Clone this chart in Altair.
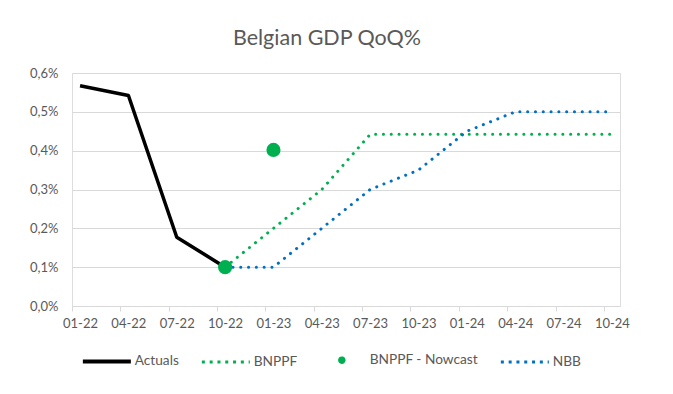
import altair as alt
import pandas as pd

# ---- data ----
quarters = ["01-22", "04-22", "07-22", "10-22", "01-23", "04-23", "07-23",
            "10-23", "01-24", "04-24", "07-24", "10-24"]
actuals = [0.567, 0.542, 0.177, 0.100, None, None, None, None, None, None, None, None]
bnppf = [None, None, None, 0.100, 0.200, 0.300, 0.442, 0.442, 0.442, 0.442, 0.442, 0.442]
nowcast = [None, None, None, 0.100, 0.402, None, None, None, None, None, None, None]
nbb = [None, None, None, 0.100, 0.100, 0.200, 0.300, 0.350, 0.450, 0.500, 0.500, 0.500]

series_names = ["Actuals", "BNPPF", "BNPPF - Nowcast", "NBB"]
series_vals = [actuals, bnppf, nowcast, nbb]
series_colors = ["#000000", "#00B050", "#00B050", "#0070C0"]

rows = []
for name, vals in zip(series_names, series_vals):
    for i, v in enumerate(vals):
        if v is not None:
            rows.append({"series": name, "q": i, "pos": i * 3 + 0.5, "value": v})
df = pd.DataFrame(rows)

TEXT = "#595959"
GRID = "#D9D9D9"
FONT = "Lato"

label_arr = "[" + ",".join("'%s'" % q for q in quarters) + "]"

x_enc = alt.X(
    "pos:Q",
    scale=alt.Scale(domain=[0, 34], nice=False, zero=False),
    axis=alt.Axis(
        values=[i * 3 for i in range(len(quarters))],
        labelExpr=label_arr + "[round(datum.value/3)]",
        labelOffset=8,
        labelOverlap=False,
        labelBound=False,
        labelFlush=False,
        grid=False,
        domainColor=GRID,
        tickColor=GRID,
        tickSize=5,
        labelPadding=6,
        labelFont=FONT,
        labelFontSize=13,
        labelColor=TEXT,
        title=None,
    ),
)
y_enc = alt.Y(
    "value:Q",
    scale=alt.Scale(domain=[0, 0.6], nice=False),
    axis=alt.Axis(
        values=[0, 0.1, 0.2, 0.3, 0.4, 0.5, 0.6],
        labelExpr="replace(format(datum.value, '.1f'), '.', ',') + '%'",
        grid=True,
        gridColor=GRID,
        domain=False,
        ticks=False,
        labelPadding=14,
        labelFont=FONT,
        labelFontSize=13,
        labelColor=TEXT,
        title=None,
    ),
)

# small ring (looks like a filled dot) centred in a full-width (invisible) legend symbol box
dot_path = ("M -0.75,0 M 0.75,0 "
            "M -0.0625,0 A 0.0625,0.0625 0 1,0 0.0625,0 A 0.0625,0.0625 0 1,0 -0.0625,0 Z")
is_now = "datum.value === 'BNPPF - Nowcast'"
is_dotted = "(datum.value === 'BNPPF' || datum.value === 'NBB')"

legend = alt.Legend(
    title=None,
    orient="none",
    legendX=28,
    legendY=280,
    direction="horizontal",
    columnPadding=16,
    labelFont=FONT,
    labelFontSize=13.7,
    labelColor=TEXT,
    symbolSize=2304,
    symbolOpacity=1,
    symbolType={"expr": is_now + " ? '" + dot_path + "' : 'stroke'"},
    symbolStrokeWidth={"expr": "datum.value === 'Actuals' ? 4 : (" + is_now + " ? 4.5 : 3)"},
    symbolDash={"expr": is_dotted + " ? [3, 4.8] : [1, 0]"},
    labelOffset=21,
)

color_enc = alt.Color(
    "series:N",
    scale=alt.Scale(domain=series_names, range=series_colors),
    legend=legend,
)

base = alt.Chart(df).encode(x=x_enc, y=y_enc, color=color_enc)

actual_line = base.transform_filter("datum.series === 'Actuals'").mark_line(
    strokeWidth=3.5, strokeJoin="round"
)
bnppf_line = base.transform_filter("datum.series === 'BNPPF'").mark_line(
    strokeWidth=3, strokeDash=[0.1, 7.7], strokeCap="round"
)
nbb_line = base.transform_filter("datum.series === 'NBB'").mark_line(
    strokeWidth=3, strokeDash=[0.1, 7.7], strokeCap="round"
)
now_pts = base.transform_filter("datum.series === 'BNPPF - Nowcast'").mark_circle(
    size=200, opacity=1
)

chart = (
    alt.layer(actual_line, bnppf_line, nbb_line, now_pts)
    .properties(
        width=548,
        height=233,
        padding={"left": 64, "top": 65, "right": 40, "bottom": 85},
        autosize=alt.AutoSizeParams(type="none"),
        title=alt.Title(
            "Belgian GDP QoQ%",
            font=FONT,
            fontSize=21.5,
            fontWeight="normal",
            color=TEXT,
            anchor="middle",
            dx=-19,
            offset=18,
        ),
    )
    .configure_view(stroke=None)
    .configure(background="white")
)

chart.save("out.html", embed_options={"renderer": "svg", "actions": False})
